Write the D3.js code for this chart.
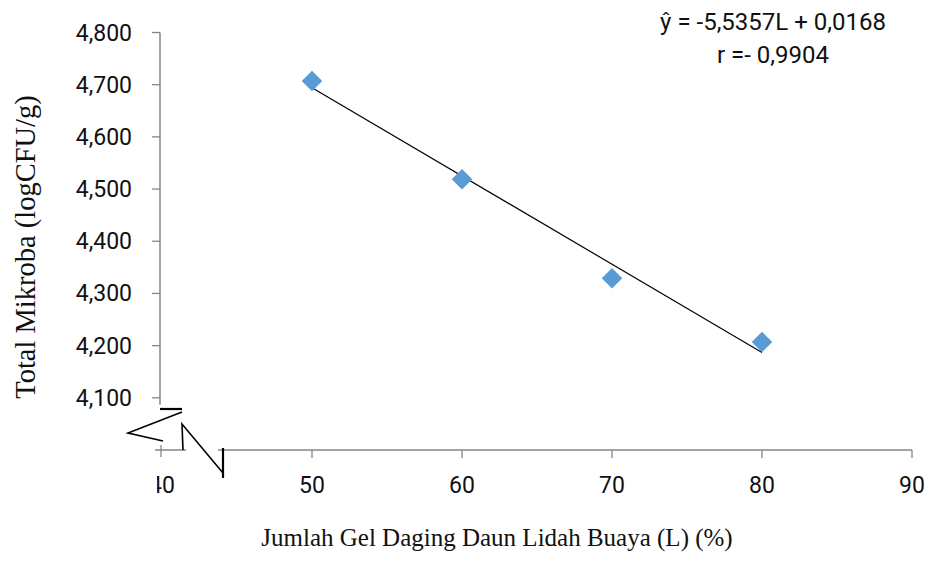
<!DOCTYPE html>
<html lang="en">
<head>
  <meta charset="UTF-8">
  <title>Total Mikroba vs Gel Lidah Buaya</title>
  <style>
    body { margin: 0; background: #fff; }
  </style>
</head>
<body>
  <svg id="svg" width="929" height="573"></svg>
  <script src="https://d3js.org/d3.v7.min.js"></script>
  <script>
    // data
    const gel = [50, 60, 70, 80]
    const mikroba = [4.707, 4.519, 4.329, 4.207]
    const xTicks = [40, 50, 60, 70, 80, 90]
    const yTicks = [4.1, 4.2, 4.3, 4.4, 4.5, 4.6, 4.7, 4.8]
    const equation = ['\u0177 = -5,5357L + 0,0168', 'r =- 0,9904']

    const svg = d3.select('#svg')
    const x = d3.scaleLinear().domain([40, 90]).range([162, 912])
    const y = d3.scaleLinear().domain([4.0, 4.8]).range([450, 32.5])
    const grey = '#868686'
    const fmt = d => d3.format('.3f')(d).replace('.', ',')

    // y axis (stops above the break)
    svg.append('line')
      .attr('x1', 160).attr('x2', 160)
      .attr('y1', y(4.8)).attr('y2', y(4.1) + 7)
      .attr('stroke', grey).attr('stroke-width', 1.5)
    svg.selectAll('.ytick').data(yTicks).enter().append('line')
      .attr('x1', 152).attr('x2', 160)
      .attr('y1', d => y(d)).attr('y2', d => y(d))
      .attr('stroke', grey).attr('stroke-width', 1.3)
    svg.selectAll('.ylab').data(yTicks).enter().append('text')
      .attr('x', 132).attr('y', d => y(d) + 8)
      .attr('text-anchor', 'end')
      .style('font', '23px Roboto').attr('fill', '#111')
      .text(fmt)

    // x axis, two pieces around the break
    const y0 = y(4.0)
    svg.append('line').attr('x1', 155).attr('x2', 186).attr('y1', y0).attr('y2', y0)
      .attr('stroke', grey).attr('stroke-width', 1.5)
    svg.append('line').attr('x1', 218).attr('x2', x(90)).attr('y1', y0).attr('y2', y0)
      .attr('stroke', grey).attr('stroke-width', 1.5)
    svg.append('line').attr('x1', x(40) - 1).attr('x2', x(40) - 1).attr('y1', y0 - 5).attr('y2', y0 + 7)
      .attr('stroke', grey).attr('stroke-width', 1.3)
    svg.selectAll('.xtick').data(xTicks.slice(1)).enter().append('line')
      .attr('x1', d => x(d)).attr('x2', d => x(d))
      .attr('y1', y0).attr('y2', y0 + 8)
      .attr('stroke', grey).attr('stroke-width', 1.3)

    svg.append('clipPath').attr('id', 'cut').append('rect')
      .attr('x', 157).attr('y', 460).attr('width', 800).attr('height', 50)
    svg.selectAll('.xlab').data(xTicks).enter().append('text')
      .attr('x', d => x(d)).attr('y', y0 + 43)
      .attr('text-anchor', 'middle')
      .attr('clip-path', d => d === 40 ? 'url(#cut)' : null)
      .style('font', '23px Roboto').attr('fill', '#111')
      .text(d => d)

    // axis break marks
    const brk = svg.append('g').attr('fill', 'none').attr('stroke', '#000').attr('stroke-width', 1.6)
    brk.append('line').attr('x1', 160).attr('x2', 182).attr('y1', 409).attr('y2', 409).attr('stroke-width', 2.2)
    brk.append('polyline').attr('points', '182,412 128,433 163,441')
    brk.append('polyline').attr('points', '183,450 182,424 223,473')
    brk.append('line').attr('x1', 223).attr('x2', 223).attr('y1', 448).attr('y2', 478).attr('stroke-width', 2.2)

    // least squares trend line
    const mx = d3.mean(gel), my = d3.mean(mikroba)
    const slope = d3.sum(gel, (g, i) => (g - mx) * (mikroba[i] - my)) / d3.sum(gel, g => (g - mx) ** 2)
    const fit = g => my + slope * (g - mx)
    const ends = [d3.min(gel), d3.max(gel)]
    svg.append('path')
      .attr('d', d3.line().x(d => x(d)).y(d => y(fit(d)))(ends))
      .attr('fill', 'none').attr('stroke', '#000').attr('stroke-width', 1.2)

    // points
    svg.selectAll('.pt').data(gel).enter().append('path')
      .attr('d', d3.symbol(d3.symbolSquare, 210))
      .attr('transform', (d, i) => `translate(${x(d)},${y(mikroba[i])}) rotate(45)`)
      .attr('fill', '#5b9bd5')

    // equation
    svg.selectAll('.eq').data(equation).enter().append('text')
      .attr('x', 773).attr('y', (d, i) => 30 + i * 33)
      .attr('text-anchor', 'middle')
      .style('font', '24px Roboto').attr('fill', '#111')
      .text(d => d)

    // axis titles
    svg.append('text')
      .attr('transform', 'translate(35,247) rotate(-90)')
      .attr('text-anchor', 'middle')
      .style('font', '28.5px "Liberation Serif"').attr('fill', '#111')
      .text('Total Mikroba (logCFU/g)')
    svg.append('text')
      .attr('x', 497).attr('y', 546)
      .attr('text-anchor', 'middle')
      .style('font', '25px "Liberation Serif"').attr('fill', '#111')
      .text('Jumlah Gel Daging Daun Lidah Buaya (L) (%)')
  </script>
</body>
</html>
